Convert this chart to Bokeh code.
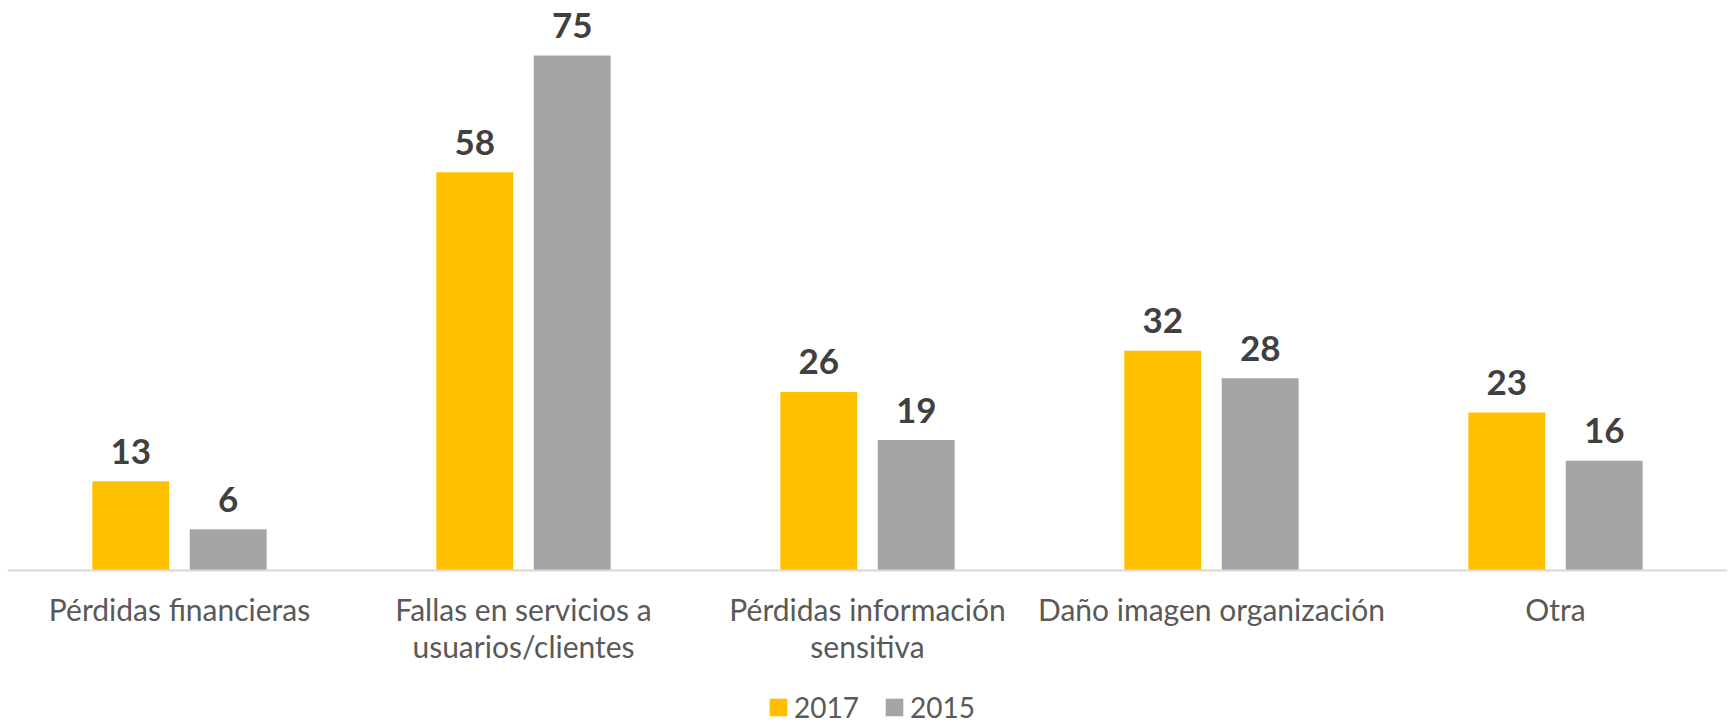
from bokeh.plotting import figure
from bokeh.models import ColumnDataSource, FactorRange, Range1d, Legend, LegendItem, Span
from bokeh.transform import dodge
from bokeh.core.properties import value
from bokeh.embed import file_html
from bokeh.resources import INLINE

categories = ["Pérdidas financieras", "Fallas en servicios a\nusuarios/clientes",
              "Pérdidas información\nsensitiva", "Daño imagen organización", "Otra"]
values_2017 = [13, 58, 26, 32, 23]
values_2015 = [6, 75, 19, 28, 16]
series_names = ["2017", "2015"]

YELLOW = "#FFC000"
GRAY = "#A5A5A5"
FONT = "Lato"

line1 = [c.split("\n")[0] for c in categories]
line2 = [c.split("\n")[1] if "\n" in c else "" for c in categories]

src = ColumnDataSource(dict(cat=categories, v17=values_2017, v15=values_2015,
                            l17=[str(v) for v in values_2017],
                            l15=[str(v) for v in values_2015],
                            line1=line1, line2=line2, zero=[0] * len(categories)))

PX = 6.867          # pixels per unit
H = 726
BASE = 570          # baseline position from top
p = figure(x_range=FactorRange(*categories, range_padding=0),
           y_range=Range1d(-(H - BASE) / PX, BASE / PX),
           width=1727, height=H, output_backend="svg",
           toolbar_location=None, min_border_left=7, min_border_right=0,
           min_border_top=0, min_border_bottom=0)

off = 0.1415
bw = 0.2235
r17 = p.vbar(x=dodge("cat", -off, range=p.x_range), top="v17", width=bw, source=src,
             fill_color=YELLOW, line_color=None)
r15 = p.vbar(x=dodge("cat", off, range=p.x_range), top="v15", width=bw, source=src,
             fill_color=GRAY, line_color=None)

p.add_layout(Span(location=0, dimension="width", line_color="#D9D9D9", line_width=2))

for col, lab, dx in (("v17", "l17", -off), ("v15", "l15", off)):
    p.text(x=dodge("cat", dx, range=p.x_range), y=col, text=lab, source=src,
           text_align="center", text_baseline="alphabetic", y_offset=-30,
           text_font=value(FONT), text_font_style="bold", text_font_size="35px",
           text_color="#404040")

for lab, yoff in (("line1", 38), ("line2", 75)):
    p.text(x="cat", y="zero", text=lab, source=src, text_align="center",
           text_baseline="alphabetic", y_offset=yoff, text_font=value(FONT),
           text_font_size="30px", text_color="#595959")

p.xaxis.visible = False
p.yaxis.visible = False
p.xgrid.visible = False
p.ygrid.visible = False
p.outline_line_color = None

legend = Legend(items=[LegendItem(label=series_names[0], renderers=[r17]),
                       LegendItem(label=series_names[1], renderers=[r15])],
                orientation="horizontal", location=(760, 2),
                label_text_font=FONT, label_text_font_size="28px",
                label_text_line_height=1.0, label_height=18,
                label_text_color="#595959", glyph_width=22, glyph_height=22,
                spacing=24, label_standoff=5, padding=0, margin=0,
                border_line_color=None, background_fill_alpha=0)
p.add_layout(legend)

open("out.html", "w").write(file_html(p, INLINE))
